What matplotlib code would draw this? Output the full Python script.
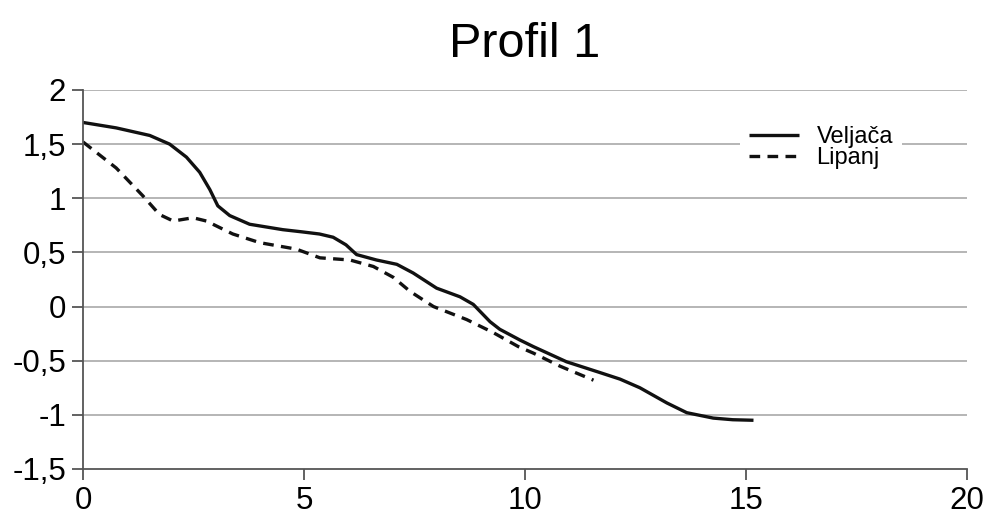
import matplotlib.pyplot as plt
from matplotlib.ticker import FuncFormatter

plt.rcParams['font.family'] = ['Liberation Sans', 'DejaVu Sans']

# Veljača (solid line)
veljaca_x = [0.0, 0.75, 1.51, 1.96, 2.34, 2.64, 2.87, 3.05, 3.32, 3.77, 4.52, 4.95, 5.35, 5.66,
             5.95, 6.19, 6.64, 7.10, 7.47, 8.0, 8.53, 8.83, 9.21, 9.43, 9.89, 10.19, 10.94,
             11.70, 12.15, 12.60, 13.21, 13.66, 14.26, 14.7, 15.17]
veljaca_y = [1.70, 1.65, 1.58, 1.50, 1.38, 1.24, 1.08, 0.93, 0.84, 0.76, 0.71, 0.69, 0.67, 0.64,
             0.57, 0.48, 0.43, 0.39, 0.31, 0.17, 0.09, 0.02, -0.14, -0.21, -0.31, -0.37, -0.51,
             -0.61, -0.67, -0.75, -0.89, -0.98, -1.03, -1.045, -1.05]

# Lipanj (dashed line)
lipanj_x = [0.0, 0.75, 1.36, 1.73, 2.04, 2.49, 2.79, 3.39, 4.0, 4.83, 5.36, 6.04, 6.57,
            7.02, 7.40, 7.93, 8.68, 9.28, 9.85, 10.19, 10.79, 11.55]
lipanj_y = [1.52, 1.28, 1.02, 0.85, 0.79, 0.82, 0.79, 0.67, 0.59, 0.53, 0.45, 0.43, 0.37,
            0.27, 0.14, 0.0, -0.12, -0.24, -0.37, -0.43, -0.55, -0.68]

x_ticks = [0, 5, 10, 15, 20]
y_ticks = [-1.5, -1, -0.5, 0, 0.5, 1, 1.5, 2]

fig = plt.figure(figsize=(9.87, 5.18), dpi=100)
ax = fig.add_axes([0.0841, 0.0946, 0.8956, 0.7317])

ax.plot(veljaca_x, veljaca_y, color='#111111', lw=2.4, label='Veljača',
        solid_capstyle='butt', solid_joinstyle='round')
ax.plot(lipanj_x, lipanj_y, color='#111111', lw=2.4, ls=(0, (3.2, 2.2)), label='Lipanj')

ax.set_xlim(0, 20)
ax.set_ylim(-1.5, 2)
ax.set_xticks(x_ticks)
ax.set_yticks(y_ticks)

fmt = FuncFormatter(lambda v, p: ('%g' % v).replace('.', ','))
ax.xaxis.set_major_formatter(fmt)
ax.yaxis.set_major_formatter(fmt)

for y in y_ticks[1:]:
    ax.axhline(y, color='#b0b0b0', lw=1.3, zorder=0)

for s in ['top', 'right']:
    ax.spines[s].set_visible(False)
for s in ['left', 'bottom']:
    ax.spines[s].set_color('#555555')
    ax.spines[s].set_linewidth(1.3)

ax.tick_params(axis='both', length=8, width=1.3, color='#555555', labelsize=22.5, pad=4)

ax.set_title('Profil 1', fontsize=35, pad=24)

leg = ax.legend(loc='upper left', bbox_to_anchor=(0.743, 0.93), frameon=True, fontsize=17,
                handlelength=2.1, handletextpad=0.75, labelspacing=-0.05, borderpad=0.4,
                borderaxespad=0, fancybox=False)
leg.get_frame().set_edgecolor('none')
leg.get_frame().set_facecolor('white')
leg.get_frame().set_alpha(1)

fig.savefig('out.png', dpi=100)
